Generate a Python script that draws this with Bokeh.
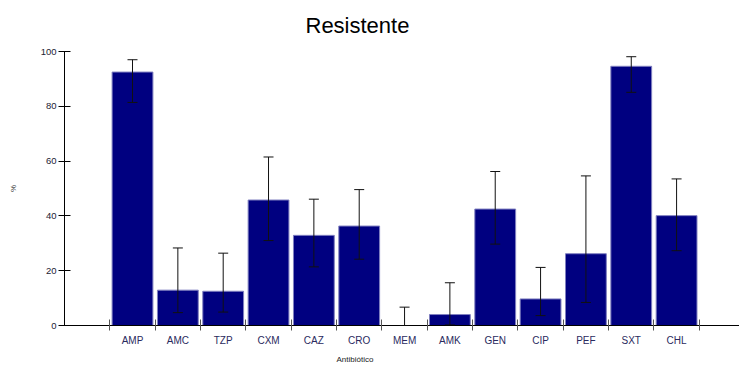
from bokeh.plotting import figure
from bokeh.models import (ColumnDataSource, Range1d, FixedTicker, Whisker, TeeHead, Title)
from bokeh.embed import file_html
from bokeh.resources import INLINE

categories = ["AMP", "AMC", "TZP", "CXM", "CAZ", "CRO", "MEM", "AMK", "GEN", "CIP", "PEF", "SXT", "CHL"]
values = [92.5, 12.9, 12.5, 45.8, 32.9, 36.3, 0.0, 4.0, 42.5, 9.7, 26.2, 94.6, 40.1]
upper = [97.0, 28.3, 26.4, 61.5, 46.1, 49.6, 6.7, 15.6, 56.2, 21.2, 54.6, 98.1, 53.5]
lower = [81.4, 4.7, 4.9, 31.0, 21.4, 24.2, 0.0, 0.2, 29.7, 3.6, 8.4, 85.1, 27.3]
y_ticks = [0, 20, 40, 60, 80, 100]

xs = list(range(1, len(categories) + 1))
boundaries = [x - 0.5 for x in xs] + [xs[-1] + 0.5]

src = ColumnDataSource(dict(x=xs, top=values, upper=upper, lower=lower, cat=categories))

W, H = 739, 367
left_border, top_border, bottom_border = 64, 51, 40
frame_w = W - left_border
px_per_slot = 45.34

p = figure(width=W, height=H, output_backend="svg", toolbar_location=None,
           x_range=Range1d(-0.5, -0.5 + frame_w / px_per_slot),
           y_range=Range1d(0, 100),
           min_border_left=left_border, min_border_right=0,
           min_border_top=top_border, min_border_bottom=bottom_border)
p.outline_line_color = None
p.grid.visible = False
p.background_fill_color = "white"

p.add_layout(Title(text="Resistente", align="left", offset=241, standoff=24,
                   vertical_align="top",
                   text_font="Liberation Sans", text_font_size="22px",
                   text_font_style="normal", text_color="black"), "above")

p.vbar(x="x", top="top", width=0.9, source=src, fill_color="#000080",
       line_color="#8080c0", line_width=1)

p.add_layout(Whisker(source=src, base="x", upper="upper", lower="lower",
                     level="overlay", line_color="#111111", line_width=1,
                     upper_head=TeeHead(size=10, line_color="#111111", line_width=1),
                     lower_head=TeeHead(size=10, line_color="#111111", line_width=1)))

# x axis
xa = p.xaxis[0]
xa.ticker = FixedTicker(ticks=xs, minor_ticks=boundaries)
xa.major_label_overrides = {x: c for x, c in zip(xs, categories)}
xa.major_tick_in = 0
xa.major_tick_out = 0
xa.minor_tick_in = 6
xa.minor_tick_out = 5
xa.minor_tick_line_color = "#555555"
xa.axis_line_color = "black"
xa.major_label_text_font = "Liberation Sans"
xa.major_label_text_font_size = "10px"
xa.major_label_text_color = "#2a2a5e"
xa.major_label_standoff = 4

# y axis
ya = p.yaxis[0]
ya.ticker = FixedTicker(ticks=y_ticks, num_minor_ticks=6)
ya.major_tick_in = 6
ya.major_tick_out = 6
ya.minor_tick_in = 3
ya.minor_tick_out = 3
ya.major_tick_line_color = "black"
ya.minor_tick_line_color = "#333333"
ya.axis_line_color = "black"
ya.major_label_text_font = "Liberation Sans"
ya.major_label_text_font_size = "9.5px"
ya.major_label_text_color = "#222233"
ya.major_label_standoff = 2
ya.axis_label = "%"
ya.axis_label_text_font = "Liberation Sans"
ya.axis_label_text_font_size = "8px"
ya.axis_label_text_font_style = "normal"
ya.axis_label_text_color = "#333333"
ya.axis_label_standoff = 20

p.add_layout(Title(text="Antibiótico", align="left", offset=272, standoff=8,
                   text_font="Liberation Sans", text_font_size="8px",
                   text_font_style="normal", text_color="#222222"), "below")

open("out.html", "w").write(file_html(p, INLINE))
